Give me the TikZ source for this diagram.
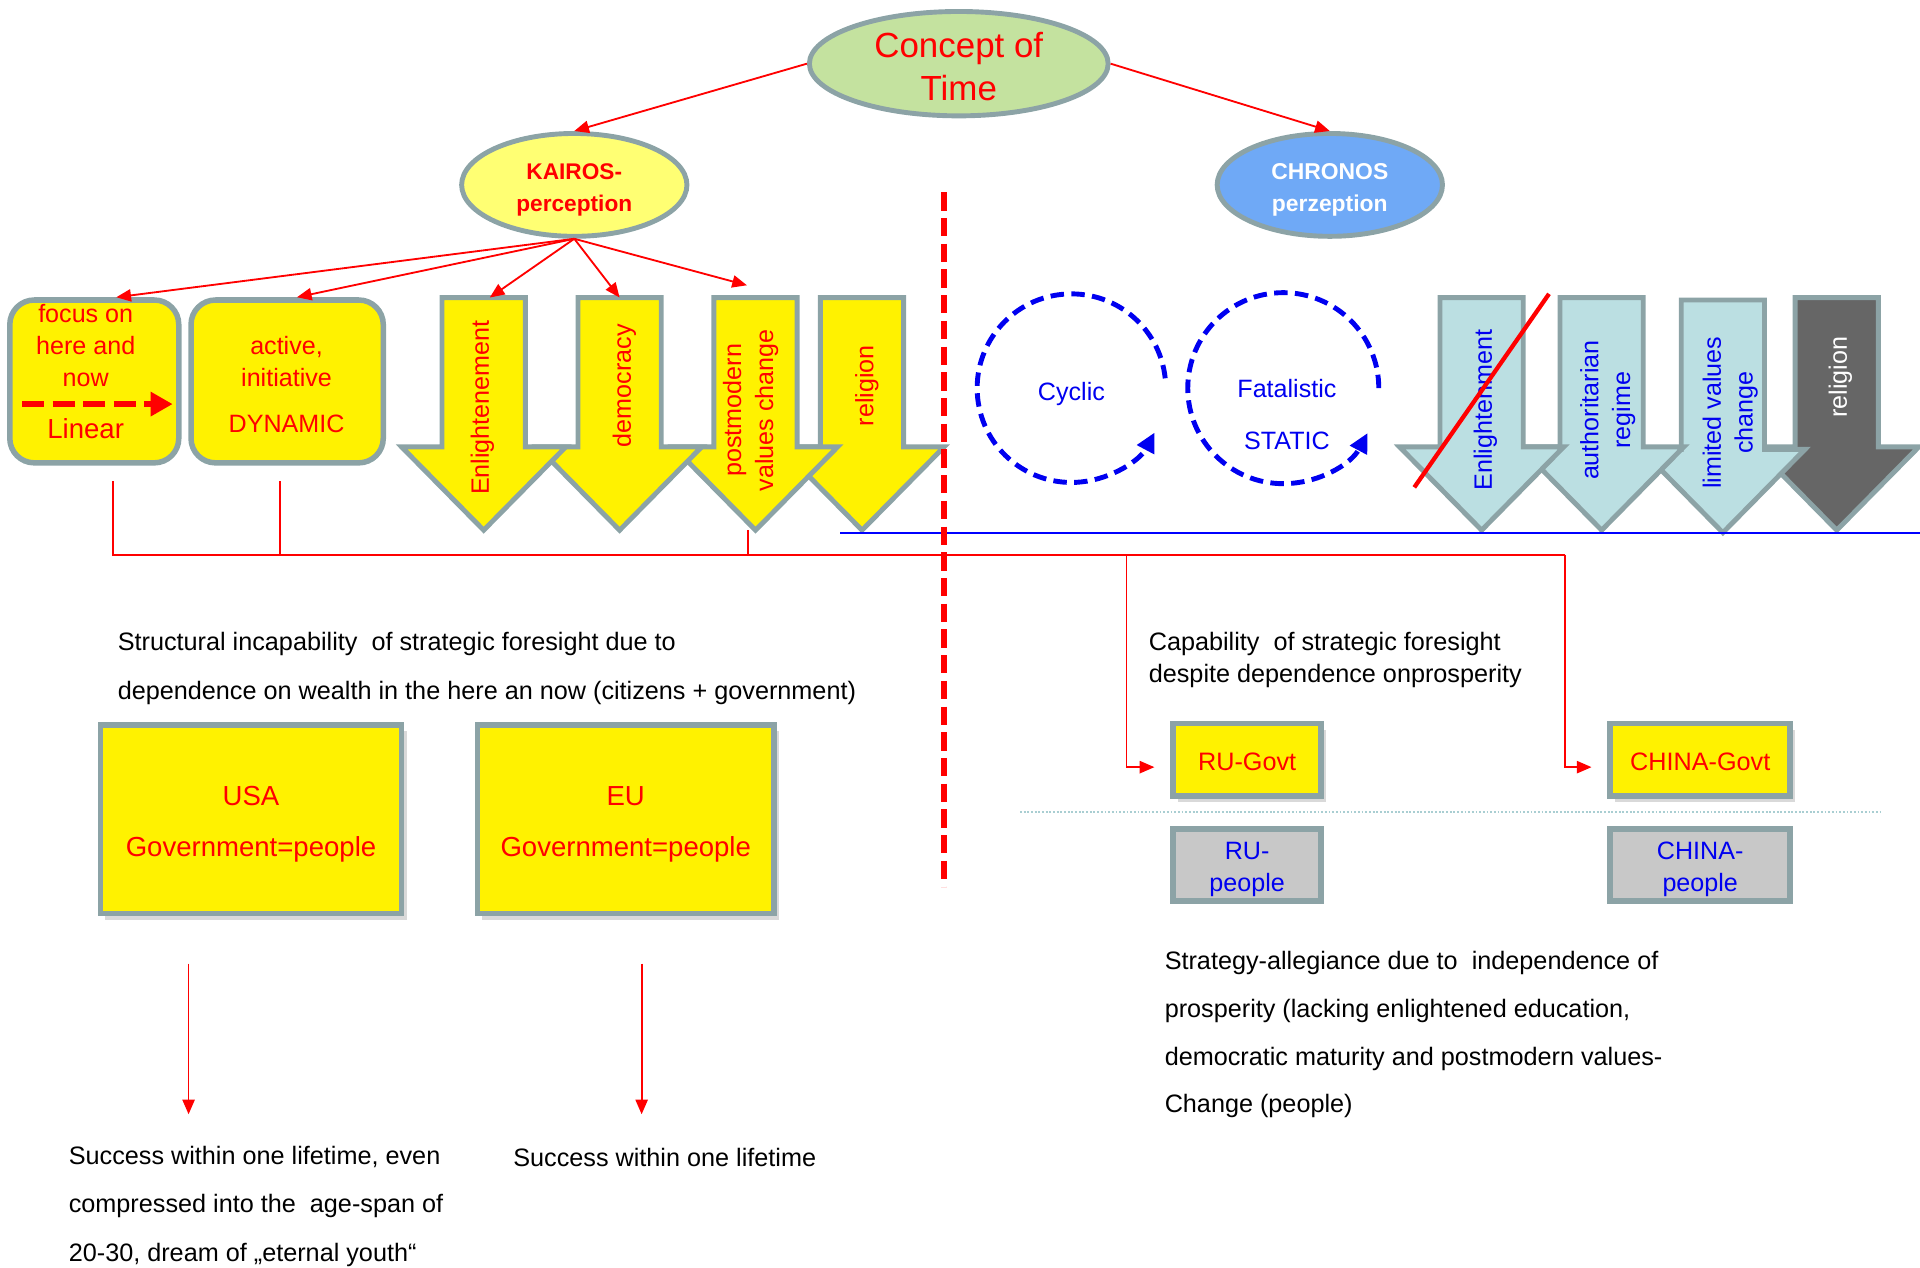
\documentclass[tikz,border=0pt]{standalone}
\usepackage{fontspec}
\setmainfont{Liberation Sans}
\usepackage{xcolor}
\usepackage{tikz}
\usetikzlibrary{positioning, arrows.meta, shapes.geometric, shadows}

\definecolor{rimgray}{HTML}{8CA3A6}
\definecolor{conceptgreen}{HTML}{C4E29F}
\definecolor{kairosyellow}{HTML}{FFFF73}
\definecolor{chronosblue}{HTML}{6FA9F6}
\definecolor{arrowblue}{HTML}{BBDFE2}
\definecolor{arrowdark}{HTML}{666666}
\definecolor{peoplegray}{HTML}{C8C8C8}
\definecolor{dotline}{HTML}{A9CED2}
\definecolor{textblue}{HTML}{0000F0}

\begin{document}
\begin{tikzpicture}[
x=1pt, y=-1pt,
oval/.style={
ellipse,
draw=rimgray,
line width=4pt,
align=center,
inner sep=0pt
},
roundbox/.style={
rectangle,
draw=rimgray,
fill=yellow,
line width=4.5pt,
rounded corners=20pt
},
govbox/.style={
rectangle,
draw=rimgray,
fill=yellow,
line width=4.5pt,
align=center,
text=red,
drop shadow={shadow xshift=4pt, shadow yshift=-5pt, opacity=0.3}
},
peoplebox/.style={
rectangle,
draw=rimgray,
fill=peoplegray,
line width=4.5pt,
align=center,
text=textblue,
font=\fontsize{20.5}{26}\selectfont
},
yelarrow/.style={fill=yellow, draw=rimgray, line width=4pt},
bluearrow/.style={fill=arrowblue, draw=rimgray, line width=4pt},
darkarrow/.style={fill=arrowdark, draw=rimgray, line width=4pt},
fatarrow/.pic={
\path[pic actions] (-34,0) -- (34,0) -- (34,122) -- (67,122) -- (0,190)
  -- (-67,122) -- (-34,122) -- cycle;
\coordinate (-top) at (0,0);
},
arrowtxt/.style={rotate=90, align=center, inner sep=0pt, font=\fontsize{20.5}{26}\selectfont},
redtxt/.style={text=red, align=center, inner sep=0pt, font=\fontsize{20.5}{26}\selectfont},
bluetxt/.style={text=textblue, inner sep=0pt, font=\fontsize{20.5}{26}\selectfont},
bodytxt/.style={anchor=west, align=left, inner sep=0pt},
link/.style={
red,
line width=1.5pt,
-{Triangle[length=12pt,width=10pt]}
},
bus/.style={red, line width=1.5pt},
cyclearrow/.style={
textblue,
line width=4pt,
dash pattern=on 11pt off 6pt,
-{Triangle[length=16pt,width=15pt]}
}
]

\useasboundingbox (0,0) rectangle (1568,1035);

% top of the tree
\node[oval, fill=conceptgreen, minimum width=244pt, minimum height=83pt, text=red,
  font=\fontsize{28.5}{35}\selectfont] (concept) at (783,52) {\rule{0pt}{25pt}Concept of\\Time};
\node[oval, fill=kairosyellow, minimum width=184pt, minimum height=84pt, text=red,
  font=\bfseries\fontsize{18.5}{26}\selectfont] (kairos) at (469,151) {\rule{0pt}{21pt}KAIROS-\\perception};
\node[oval, fill=chronosblue, minimum width=184pt, minimum height=84pt, text=white,
  font=\bfseries\fontsize{18.7}{26}\selectfont] (chronos) at (1086,151) {\rule{0pt}{21pt}CHRONOS\\perzeption};

\draw[link] (concept.west) -- (kairos.north);
\draw[link] (concept.east) -- (chronos.north);

% kairos side
\node[roundbox, minimum width=138pt, minimum height=133pt] (focus) at (77,311.5) {};
\node[roundbox, minimum width=157pt, minimum height=133pt] (active) at (234.5,311.5) {};

\node[redtxt] (focus-txt) at (70,282) {focus on\\here and\\now};
\node[redtxt, font=\fontsize{22.5}{26}\selectfont] (linear) at (70,350) {Linear};
\coordinate (lin-a) at (18,330);
\coordinate (lin-b) at (141,330);
\draw[red, line width=5pt, dash pattern=on 18pt off 7pt,
  -{Triangle[length=18pt,width=19pt]}] (lin-a) -- (lin-b);
\node[redtxt] (active-txt) at (234,295) {active,\\initiative};
\node[redtxt] (dynamic) at (234,346) {DYNAMIC};

\pic[yelarrow] (lrel) at (704,243) {fatarrow};
\pic[yelarrow] (lpm) at (617,243) {fatarrow};
\pic[yelarrow] (ldem) at (506,243) {fatarrow};
\pic[yelarrow] (lenl) at (395,243) {fatarrow};

\node[arrowtxt, text=red] (lenl-txt) at (394,333) {Enlightenement};
\node[arrowtxt, text=red] (ldem-txt) at (510,315) {democracy};
\node[arrowtxt, text=red] (lpm-txt) at (613,335) {postmodern\\values change};
\node[arrowtxt, text=red] (lrel-txt) at (708,315) {religion};

\draw[link] (kairos.south) -- ([xshift=18pt]focus.north);
\draw[link] (kairos.south) -- ([xshift=8pt]active.north);
\draw[link] (kairos.south) -- ([xshift=5pt]lenl-top);
\draw[link] (kairos.south) -- (ldem-top);
\draw[link] (kairos.south) -- ([xshift=-7pt,yshift=10pt]lpm-top);

% chronos side
\coordinate (cyc-c) at (875,317);
\coordinate (fat-c) at (1048,317);
\draw[cyclearrow] (cyc-c) ++(-6:77) arc[start angle=-6, end angle=-332, radius=77];
\draw[cyclearrow] (fat-c) ++(0:78) arc[start angle=0, end angle=-332, radius=78];
\node[bluetxt] (cyclic) at (875,322) {Cyclic};
\node[bluetxt] (fatal) at (1051,317) {Fatalistic};
\node[bluetxt] (static) at (1051,360) {STATIC};

\pic[darkarrow] (rrel) at (1500,243) {fatarrow};
\pic[bluearrow] (rlim) at (1407,245) {fatarrow};
\pic[bluearrow] (raut) at (1308,243) {fatarrow};
\pic[bluearrow] (renl) at (1210,243) {fatarrow};

\node[arrowtxt, text=textblue] (renl-txt) at (1213,335) {Enlightenment};
\node[arrowtxt, text=textblue] (raut-txt) at (1313,335) {authoritarian\\regime};
\node[arrowtxt, text=textblue] (rlim-txt) at (1413,337) {limited values\\change};
\node[arrowtxt, text=white] (rrel-txt) at (1503,308) {religion};

\coordinate (strike-a) at (1155,398);
\coordinate (strike-b) at (1265,240);
\draw[red, line width=3.5pt] (strike-a) -- (strike-b);

\coordinate (base-l) at (686,435);
\coordinate (base-r) at (1568,435);
\draw[blue, line width=1.5pt] (base-l) -- (base-r);

% red bus
\coordinate (drop-a) at (92,393);
\coordinate (drop-b) at (229,393);
\coordinate (drop-c) at (611,433);
\coordinate (bus-a) at (92,453);
\coordinate (bus-b) at (229,453);
\coordinate (bus-c) at (611,453);
\coordinate (bus-ru) at (920,453);
\coordinate (bus-cn) at (1278,453);
\draw[bus] (drop-a) -- (bus-a) -- (bus-cn);
\draw[bus] (drop-b) -- (bus-b);
\draw[bus] (drop-c) -- (bus-c);

% divider
\coordinate (div-top) at (771,157);
\coordinate (div-bot) at (771,724);
\draw[red, line width=5.5pt, dash pattern=on 15pt off 6pt] (div-top) -- (div-bot);

% west block
\node[bodytxt, font=\fontsize{20.6}{40}\selectfont] (incap) at (96,546)
  {Structural incapability\ \ of strategic foresight due to\\dependence on wealth in the here an now (citizens + government)};
\node[govbox, minimum width=246pt, minimum height=154pt,
  font=\fontsize{22.5}{42}\selectfont] (usa) at (205,669) {\rule{0pt}{24pt}USA\\Government=people};
\node[govbox, minimum width=242pt, minimum height=154pt,
  font=\fontsize{22.5}{42}\selectfont] (eu) at (511,669) {\rule{0pt}{24pt}EU\\Government=people};

\coordinate (usa-out) at (154,787);
\coordinate (usa-in) at (154,910);
\coordinate (eu-out) at (524,787);
\coordinate (eu-in) at (524,910);
\draw[link] (usa-out) -- (usa-in);
\draw[link] (eu-out) -- (eu-in);

\node[bodytxt, font=\fontsize{20.6}{39.5}\selectfont] (usa-goal) at (56,985)
  {Success within one lifetime, even\\compressed into the\ \ age-span of\\20-30, dream of „eternal youth“};
\node[bodytxt, font=\fontsize{20.6}{39.5}\selectfont] (eu-goal) at (419,945)
  {Success within one lifetime};

% east block
\node[bodytxt, font=\fontsize{20.6}{26}\selectfont] (capab) at (938,539)
  {Capability\ \ of strategic foresight\\despite dependence onprosperity};
\node[govbox, minimum width=121pt, minimum height=59pt,
  font=\fontsize{20.6}{26}\selectfont] (rugov) at (1018.5,620.5) {\rule{0pt}{17pt}RU-Govt};
\node[govbox, minimum width=147pt, minimum height=59pt,
  font=\fontsize{20.6}{26}\selectfont] (cngov) at (1388.5,620.5) {\rule{0pt}{17pt}CHINA-Govt};

\coordinate (dot-l) at (833,663);
\coordinate (dot-r) at (1537,663);
\draw[dotline, line width=1.2pt, dash pattern=on 1.5pt off 1.5pt] (dot-l) -- (dot-r);

\node[peoplebox, minimum width=121pt, minimum height=59pt] (rupeople) at (1018.5,706.5) {\rule{0pt}{21pt}RU-\\people};
\node[peoplebox, minimum width=147pt, minimum height=59pt] (cnpeople) at (1388.5,706.5) {\rule{0pt}{21pt}CHINA-\\people};

\draw[link] (bus-ru) |- ([xshift=-13pt,yshift=-6pt]rugov.west);
\draw[link] (bus-cn) |- ([xshift=-13pt,yshift=-6pt]cngov.west);

\node[bodytxt, font=\fontsize{20.6}{39}\selectfont] (allegiance) at (951,845)
  {Strategy-allegiance due to\ \ independence of\\prosperity (lacking enlightened education,\\democratic maturity and postmodern values-\\Change (people)};

\end{tikzpicture}
\end{document}
